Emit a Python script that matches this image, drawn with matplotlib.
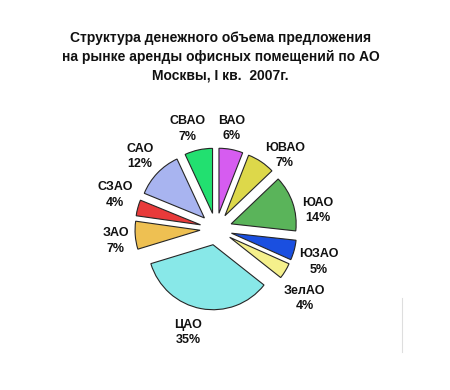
import math
import matplotlib
matplotlib.use("Agg")
import matplotlib.pyplot as plt
from matplotlib.lines import Line2D

categories = ["ВАО", "ЮВАО", "ЮАО", "ЮЗАО", "ЗелАО", "ЦАО", "ЗАО", "СЗАО", "САО", "СВАО"]
values = [6, 7, 14, 5, 4, 35, 7, 4, 12, 7]
colors = ["#D65CF0", "#DDD84A", "#5AB45A", "#1A4FE0", "#F5F08C", "#88E8E8",
          "#EEC052", "#E83A3A", "#A8B4F0", "#22E070"]
title = "Структура денежного объема предложения\nна рынке аренды офисных помещений по АО\nМосквы, I кв.  2007г."

# label layout (distance in radii from the wedge centre, angular shift in degrees)
label_dist = [1.32, 1.31, 1.35, 1.42, 1.49, 1.40, 1.31, 1.39, 1.37, 1.35]
label_shift = [2, -11, -10, -3, -8, -5, 3, -4, 0, 4]

plt.rcParams['font.family'] = ['Liberation Sans', 'DejaVu Sans']

fig = plt.figure(figsize=(4.5, 3.9), dpi=100)
ax = fig.add_axes([0, 0, 1, 1])

wedges, _ = ax.pie(values, colors=colors, startangle=90, counterclock=False,
                   center=(216, 161), radius=65, explode=[16] * len(values),
                   wedgeprops=dict(edgecolor="#262626", linewidth=0.8))
ax.set_xlim(0, 450)
ax.set_ylim(0, 390)
ax.set_aspect('equal')
ax.axis('off')

for w, c, v, d, s in zip(wedges, categories, values, label_dist, label_shift):
    th = math.radians((w.theta1 + w.theta2) / 2 + s)
    cx, cy = w.center
    ax.text(cx + d * w.r * math.cos(th), cy + d * w.r * math.sin(th),
            f"{c}\n{v}%", ha='center', va='center', multialignment='center',
            fontsize=9, fontweight='bold', color='#111111', linespacing=1.4)

fig.text(0.49, 0.855, title, ha='center', va='center', fontsize=10,
         fontweight='bold', linespacing=1.45, color='#111111')

fig.add_artist(Line2D([402 / 450, 402 / 450], [1 - 298 / 390, 1 - 352 / 390],
                      transform=fig.transFigure, color='#dedede', linewidth=0.8))

fig.savefig("out.png", dpi=100)
